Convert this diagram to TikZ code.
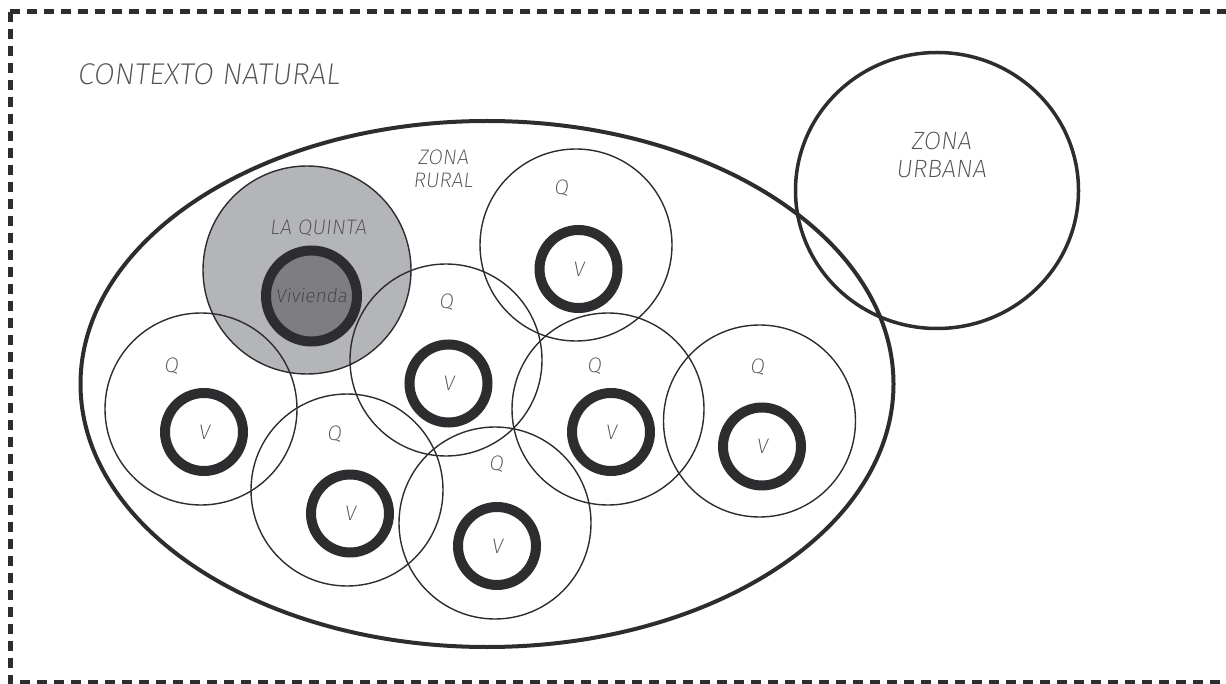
\documentclass[tikz,border=0pt]{standalone}
\usepackage{fontspec}
\usetikzlibrary{shapes.geometric}
\IfFontExistsTF{Fira Sans ExtraLight}
  {\newfontfamily\hand{Fira Sans ExtraLight}[FakeSlant=0.12]}
  {\IfFontExistsTF{Fira Sans Light}
    {\newfontfamily\hand{Fira Sans Light}[FakeSlant=0.12]}
    {\newfontfamily\hand{Fira Sans}[FakeSlant=0.12]}}
\definecolor{ink}{HTML}{2D2D2F}
\definecolor{labelgray}{HTML}{505052}
\definecolor{quintafill}{HTML}{B4B5B9}
\definecolor{viviendafill}{HTML}{7E7E81}
\tikzset{
  border/.style={draw=ink, line width=5pt, dash pattern=on 10pt off 7pt},
  ruralzone/.style={ellipse, draw=ink, line width=4pt, minimum width=813pt, minimum height=526pt, inner sep=0pt},
  urbanzone/.style={ellipse, draw=ink, line width=3.5pt, minimum width=283pt, minimum height=276pt, inner sep=0pt},
  quinta/.style={circle, draw=ink, line width=1.4pt, minimum size=192pt, inner sep=0pt},
  laquinta/.style={circle, draw=ink, fill=quintafill, line width=1.4pt, minimum size=208pt, inner sep=0pt},
  home/.style={circle, draw=ink, line width=10pt, minimum size=78pt, inner sep=0pt,
    text=labelgray, font=\hand\fontsize{21}{21}\selectfont},
  mainhome/.style={circle, draw=ink, fill=viviendafill, line width=10pt, minimum size=91pt, inner sep=0pt,
    text=labelgray!80!black, font=\hand\fontsize{19}{19}\selectfont},
  label/.style={text=labelgray, inner sep=0pt, align=center},
  qlabel/.style={label, font=\hand\fontsize{21}{21}\selectfont},
}
\begin{document}
\begin{tikzpicture}[x=1pt, y=-1pt]
\useasboundingbox (0,0) rectangle (1226,684);

% dashed frame, open on the right
\coordinate (tl) at (10,12);
\coordinate (tr) at (1226,12);
\coordinate (bl) at (10,682);
\coordinate (br) at (1226,682);
\draw[border] (tl) -- (tr);
\draw[border] (tl) -- (bl) -- (br);

% rural and urban zones
\node[ruralzone] (rural) at (487,384) {};
\node[urbanzone] (urban) at (937,190.5) {};

% the highlighted quinta
\node[laquinta] (lq) at (307,270) {};

% neighbouring quintas
\node[quinta] (q1) at (576,245) {};
\node[quinta] (q2) at (446,360) {};
\node[quinta] (q3) at (201,409) {};
\node[quinta] (q4) at (347,490) {};
\node[quinta] (q5) at (495,523) {};
\node[quinta] (q6) at (608,409) {};
\node[quinta] (q7) at (759.5,421) {};

% dwellings
\node[home] (v1) at (578.5,269) {V};
\node[home] (v2) at (448.5,383.5) {V};
\node[home] (v3) at (204,432) {V};
\node[home] (v4) at (350,513.5) {V};
\node[home] (v5) at (497,546) {V};
\node[home] (v6) at (611,432) {V};
\node[home] (v7) at (762,446.5) {V};
\node[mainhome] (viv) at (311.5,296) {Vivienda};

% quinta labels
\node[qlabel] (lq1) at (561,188) {Q};
\node[qlabel] (lq2) at (446,302) {Q};
\node[qlabel] (lq3) at (171,366) {Q};
\node[qlabel] (lq4) at (334,434) {Q};
\node[qlabel] (lq5) at (496,464) {Q};
\node[qlabel] (lq6) at (594,366) {Q};
\node[qlabel] (lq7) at (757,367) {Q};

% zone titles
\node[label, anchor=base west, font=\hand\fontsize{30}{30}\selectfont] (ctx) at (77,85) {CONTEXTO NATURAL};
\node[label, font=\hand\fontsize{21}{23}\selectfont] (ruraltxt) at (443,169) {ZONA\\RURAL};
\node[label, font=\hand\fontsize{25}{28}\selectfont] (urbantxt) at (941,155) {ZONA\\URBANA};
\node[label, anchor=base, font=\hand\fontsize{21}{21}\selectfont] (lqtxt) at (318,235) {LA QUINTA};
\end{tikzpicture}
\end{document}
